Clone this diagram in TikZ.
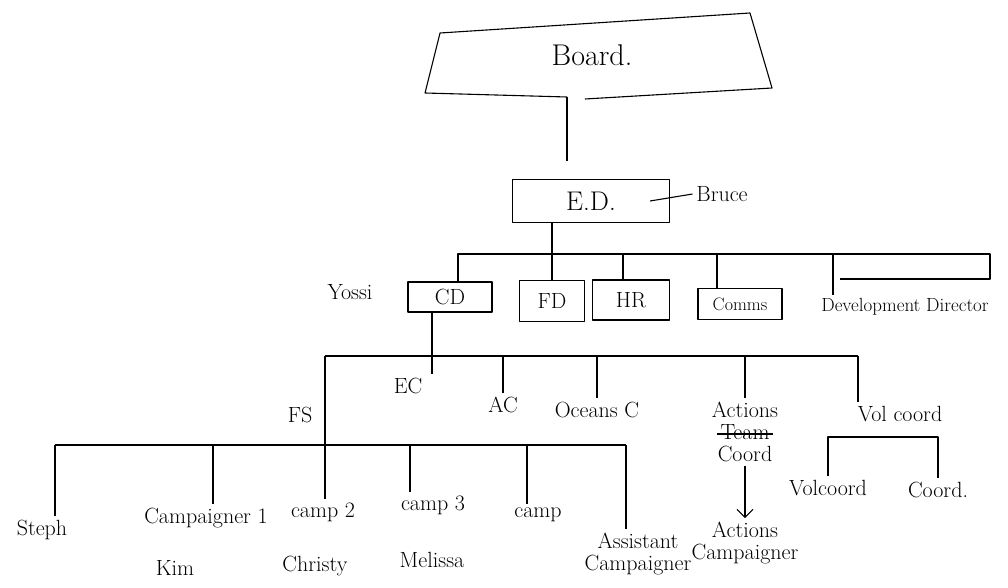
\documentclass[tikz,border=0pt]{standalone}
\usetikzlibrary{positioning,arrows.meta}

\begin{document}
\begin{tikzpicture}[x=1pt, y=-1pt, line width=1.1pt, line join=round, >={Straight Barb[length=8pt]}]
		\useasboundingbox (0,0) rectangle (1008,588);
		% the board
		\node[font=\fontsize{30}{34}\selectfont] (Board) at (592,55) {Board.};
		\coordinate (BG) at (567,97);
		\draw (BG) -- (425,93) -- (440,33) -- (750,13) -- (772,88) -- (585,99);
		\begin{scope}[every node/.style={draw, font=\fontsize{22}{26}\selectfont, minimum height=30pt}]
			\node[minimum width=157pt, minimum height=43pt, font=\fontsize{27}{30}\selectfont] (ED) at (591,201) {E.D.};
			\node[minimum width=84pt] (CD) at (450,297) {CD};
			\node[minimum width=65pt, minimum height=41pt] (FD) at (552,301) {FD};
			\node[minimum width=77pt, minimum height=40pt] (HR) at (631,300) {HR};
			\node[minimum width=84pt, minimum height=31pt, font=\fontsize{18}{20}\selectfont] (Comms) at (740,304) {Comms};
		\end{scope}
		\begin{scope}[every node/.style={font=\fontsize{22}{22}\selectfont, align=center}]
			\node (Bruce) at (722,194) {Bruce};
			\node (Yossi) at (350,292) {Yossi};
			\node[font=\fontsize{19}{20}\selectfont] (Dev) at (905,307) {Development Director};
			\node (EC) at (408,386) {EC};
			\node (AC) at (503,405) {AC};
			\node (Oceans) at (597,410) {Oceans C};
			\node (Actions) at (745,432) {Actions\\Team\\Coord};
			\node (ActC) at (745,543) {Actions\\Campaigner};
			\node (VolC) at (900,414) {Vol coord};
			\node (Volcd) at (828,488) {Volcoord};
			\node (Coordn) at (938,490) {Coord.};
			\node (FS) at (300,415) {FS};
			\node (Steph) at (42,530) {Steph};
			\node (Camp1) at (206,518) {Campaigner 1};
			\node (Kim) at (175,568) {Kim};
			\node (Camp2) at (323,512) {camp 2};
			\node (Christy) at (315,566) {Christy};
			\node (Camp3) at (433,505) {camp 3};
			\node (Melissa) at (432,560) {Melissa};
			\node (Camp) at (538,515) {camp};
			\node (Assist) at (638,554) {Assistant\\Campaigner};
		\end{scope}
		% Team is struck out
		\draw ([xshift=-28pt,yshift=-2pt]Actions.center) -- ([xshift=28pt,yshift=-2pt]Actions.center);
		% board and E.D.
		\draw[shorten >=18pt] (BG) -- (BG |- ED.north);
		\draw ([xshift=-20pt]ED.east) -- (Bruce.west);
		% second level
		\coordinate (B2L) at (458,254);
		\coordinate (B2R) at (990,254);
		\coordinate (DevBr) at (840,279);
		\draw (ED.south -| FD.north) -- (FD.north);
		\draw (B2L |- CD.north) -- (B2L) -- (B2R) |- (DevBr);
		\draw (623,254) -- (623,254 |- HR.north);
		\draw (717,254) -- (717,254 |- Comms.north);
		\draw (833,254) -- (833,254 |- Dev.north);
		% under CD
		\coordinate (B3L) at (325,356);
		\coordinate (B3R) at (858,356);
		\coordinate (CT) at ([xshift=-18pt]CD.south);
		\draw (B3L) -- (B3R);
		\draw (CT) -- (CT |- EC.north);
		\draw (AC.north |- B3L) -- (AC.north);
		\draw (Oceans.north |- B3L) -- (Oceans.north);
		\draw (Actions.north |- B3L) -- (Actions.north);
		\draw (B3R) -- (B3R |- VolC.north);
		\draw[->] (Actions.south) -- (ActC.north);
		% under FS
		\coordinate (B4L) at (55,445);
		\coordinate (B4R) at (626,445);
		\draw (B4L) -- (B4R);
		\draw (B3L) -- (B3L |- Camp2.north);
		\foreach \x/\n in {55/Steph, 213/Camp1, 410/Camp3, 527/Camp, 626/Assist}
			\draw (\x,445) -- (\x,445 |- \n.north);
		% under Vol coord
		\coordinate (VB) at (880,437);
		\draw (Volcd.north) |- (VB) -| (Coordn.north);
	\end{tikzpicture}
\end{document}
